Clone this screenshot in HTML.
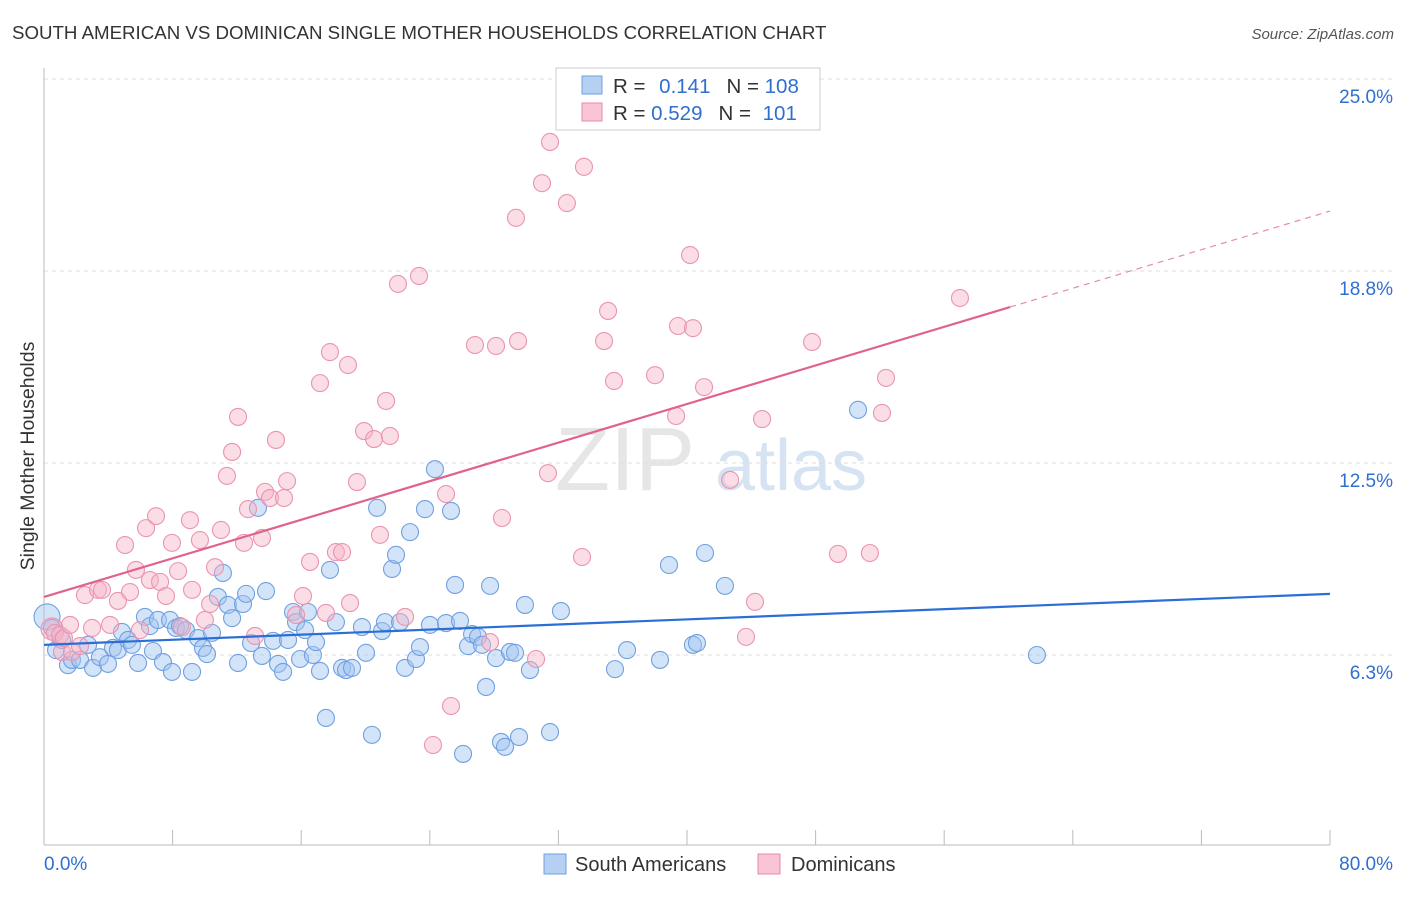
<!DOCTYPE html>
<html><head><meta charset="utf-8"><style>
body{margin:0;background:#fff;font-family:"Liberation Sans",sans-serif;}
svg text{font-family:"Liberation Sans",sans-serif;}
</style></head><body>
<svg id="chart" width="1406" height="892" viewBox="0 0 1406 892" xmlns="http://www.w3.org/2000/svg">
<text x="12" y="39" font-size="18.7" fill="#333">SOUTH AMERICAN VS DOMINICAN SINGLE MOTHER HOUSEHOLDS CORRELATION CHART</text>
<text x="1394" y="39" font-size="15" font-style="italic" fill="#555" text-anchor="end">Source: ZipAtlas.com</text>
<text x="555" y="490" font-size="90" font-family="Liberation Serif" fill="#e6e6e6">ZIP</text>
<text x="715" y="490" font-size="72" fill="#d5e3f3">atlas</text>
<g id="grid"></g>
<g id="axes"></g>
<g id="points"></g>
<g id="trends"></g>
<text transform="translate(34,456) rotate(-90)" font-size="19.5" fill="#333" text-anchor="middle">Single Mother Households</text>
<g>
<rect x="556" y="68" width="264" height="62" fill="#fff" stroke="#ccc"/>
<rect x="582" y="76" width="20" height="18" fill="#b5d0f3" stroke="#6fa0e0"/>
<rect x="582" y="103" width="20" height="18" fill="#f9c4d4" stroke="#e88aa8"/>
<text x="613" y="93" font-size="20.5" fill="#333">R = <tspan fill="#2f6fd0" dx="8">0.141</tspan><tspan dx="16" fill="#333">N = </tspan><tspan fill="#2f6fd0">108</tspan></text>
<text x="613" y="120" font-size="20.5" fill="#333">R = <tspan fill="#2f6fd0">0.529</tspan><tspan dx="16" fill="#333">N = </tspan><tspan fill="#2f6fd0" dx="6">101</tspan></text>
</g>
<g>
<rect x="544" y="854" width="22" height="20" fill="#b5d0f3" stroke="#6fa0e0"/>
<text x="575" y="871" font-size="20" fill="#333">South Americans</text>
<rect x="758" y="854" width="22" height="20" fill="#f9c4d4" stroke="#e88aa8"/>
<text x="791" y="871" font-size="20" fill="#333">Dominicans</text>
</g>
</svg>
<script>
const xTicks=[0,8,16,24,32,40,48,56,64,72,80];
const yGridVals=[6.25,12.5,18.75,25];
const yTickLabels=["6.3%","12.5%","18.8%","25.0%"];
const blueX=[0.19,0.5,0.75,1.12,1.49,1.74,2.24,2.74,3.05,3.48,3.98,4.29,4.6,4.85,5.23,5.47,5.85,6.28,6.59,6.78,7.09,7.4,7.84,7.96,8.21,8.46,8.83,9.21,9.58,9.89,10.14,10.45,10.82,11.13,11.44,11.7,12.07,12.38,12.57,12.88,13.31,13.56,13.81,14.25,14.56,14.87,15.18,15.49,15.68,15.93,16.24,16.42,16.73,16.92,17.17,17.54,17.79,18.16,18.54,18.79,19.16,19.78,20.03,20.4,20.72,21.03,21.21,21.65,21.9,22.15,22.46,22.77,23.14,23.39,23.7,24.01,24.32,25.01,25.32,25.57,25.88,26.07,26.38,26.63,27,27.25,27.5,27.75,28.12,28.43,28.68,28.99,29.3,29.55,29.92,30.23,31.48,32.16,35.52,36.27,38.32,38.88,40.37,40.62,41.12,42.36,50.64,61.77];
const blueY=[7.49,7.13,6.41,6.74,5.92,6.09,6.09,6.58,5.83,6.18,5.96,6.48,6.41,7,6.74,6.58,5.99,7.49,7.19,6.38,7.39,6.02,7.39,5.7,7.13,7.19,7.06,5.7,6.8,6.48,6.28,6.97,8.14,8.92,7.88,7.45,5.99,7.91,8.24,6.64,11.04,6.22,8.33,6.71,5.96,5.7,6.74,7.65,7.32,6.12,7.06,7.65,6.25,6.67,5.73,4.2,9.02,7.32,5.83,5.76,5.83,7.16,6.32,3.65,11.04,7.03,7.32,9.05,9.51,7.32,5.83,10.25,6.12,6.51,11,7.23,12.3,7.29,10.94,8.53,7.36,3.03,6.54,6.93,6.84,6.58,5.21,8.5,6.15,3.42,3.26,6.35,6.32,3.58,7.88,5.76,3.74,7.68,5.79,6.41,6.09,9.18,6.58,6.64,9.57,8.5,14.23,6.25];
const pinkX=[0.5,0.68,1,1.12,1.24,1.62,1.74,2.24,2.55,2.99,3.36,3.61,4.11,4.6,5.04,5.35,5.72,5.97,6.35,6.59,6.97,7.22,7.59,7.96,8.34,8.58,9.08,9.21,9.7,10.01,10.33,10.64,11.01,11.38,11.7,12.07,12.44,12.69,13.13,13.56,13.75,14.06,14.43,14.93,15.12,15.68,16.11,16.55,17.17,17.54,17.79,18.16,18.54,18.91,19.04,19.47,19.91,20.53,20.9,21.28,21.52,22.02,22.46,23.33,24.2,25.01,25.32,26.81,27.75,28.12,28.49,29.36,29.49,30.61,30.98,31.35,31.48,32.53,33.47,33.59,34.84,35.09,35.46,38.01,39.32,39.44,40.19,40.37,41.06,42.68,43.67,44.23,44.67,47.78,49.39,51.38,52.13,52.38,56.98];
const pinkY=[7.1,6.97,6.9,6.35,6.8,7.23,6.35,6.54,8.2,7.13,8.37,8.37,7.23,8.01,9.83,8.3,9.02,7.06,10.38,8.69,10.77,8.63,8.17,9.9,8.98,7.16,10.64,8.37,9.99,7.39,7.91,9.11,10.32,12.08,12.86,14,9.9,11,6.87,10.06,11.56,11.36,13.25,11.36,11.91,7.55,8.17,9.28,15.1,7.62,16.11,9.6,9.6,15.69,7.94,11.88,13.54,13.28,10.16,14.52,13.38,18.33,7.49,18.59,3.32,11.49,4.59,16.34,6.67,16.31,10.71,20.48,16.47,6.12,21.61,12.17,22.95,20.96,9.44,22.14,16.47,17.45,15.17,15.36,14.03,16.96,19.27,16.89,14.97,11.95,6.84,7.98,13.93,16.44,9.54,9.57,14.13,15.27,17.87];
const blueTrend=[6.58,8.24];
const pinkTrend=[8.14,0.157];
const NS="http://www.w3.org/2000/svg";
const X0=44,X1=1330,Y0=847,PX=(X1-X0)/80,PY=30.72;
function sx(v){return X0+v*PX;}
function sy(v){return Y0-v*PY;}
function mk(tag,attrs,parent){const e=document.createElementNS(NS,tag);for(const k in attrs)e.setAttribute(k,attrs[k]);parent.appendChild(e);return e;}
const grid=document.getElementById('grid'),axes=document.getElementById('axes'),pts=document.getElementById('points'),tr=document.getElementById('trends');
yGridVals.forEach((v,i)=>{
  const l=mk('line',{x1:X0,x2:1394,y1:sy(v),y2:sy(v),stroke:'#ddd','stroke-dasharray':'4,4'},grid);
  
  
  const t=mk('text',{x:1393,y:sy(v)+24,'font-size':19,fill:'#2f6fd0','text-anchor':'end'},axes);
  t.textContent=yTickLabels[i];
  
  
});
const ya=mk('line',{x1:X0,x2:X0,y1:68,y2:845,stroke:'#bbb'},axes);


const xa=mk('line',{x1:X0,x2:X1,y1:845,y2:845,stroke:'#bbb'},axes);


xTicks.forEach(v=>{
  const t=mk('line',{x1:sx(v),x2:sx(v),y1:830,y2:845,stroke:'#bbb'},axes);
  
  
});
const xl0=mk('text',{x:44,y:870,'font-size':19,fill:'#2f6fd0'},axes);xl0.textContent=xTicks[0].toFixed(1)+'%';


const xl1=mk('text',{x:1393,y:870,'font-size':19,fill:'#2f6fd0','text-anchor':'end'},axes);xl1.textContent=xTicks[xTicks.length-1].toFixed(1)+'%';


blueX.forEach((v,i)=>{
  const c=mk('circle',{cx:sx(v),cy:sy(blueY[i]),r:i===0?13:8.5,fill:'rgba(160,195,240,0.45)',stroke:'#6fa0e0','stroke-width':1.1},pts);
  
  
});
pinkX.forEach((v,i)=>{
  const c=mk('circle',{cx:sx(v),cy:sy(pinkY[i]),r:i===0?11:8.5,fill:'rgba(246,180,200,0.45)',stroke:'#ea94b0','stroke-width':1.1},pts);
  
  
});
const bl=mk('line',{x1:sx(0),y1:sy(blueTrend[0]),x2:sx(80),y2:sy(blueTrend[1]),stroke:'#2b6fd6','stroke-width':2.2},tr);


const pe=60.1;
const pl=mk('line',{x1:sx(0),y1:sy(pinkTrend[0]),x2:sx(pe),y2:sy(pinkTrend[0]+pinkTrend[1]*pe),stroke:'#e0628d','stroke-width':2.2},tr);


const pd=mk('line',{x1:sx(pe),y1:sy(pinkTrend[0]+pinkTrend[1]*pe),x2:sx(80),y2:sy(pinkTrend[0]+pinkTrend[1]*80),stroke:'#e88aa8','stroke-width':1.2,'stroke-dasharray':'6,5'},tr);


</script>
</body></html>
